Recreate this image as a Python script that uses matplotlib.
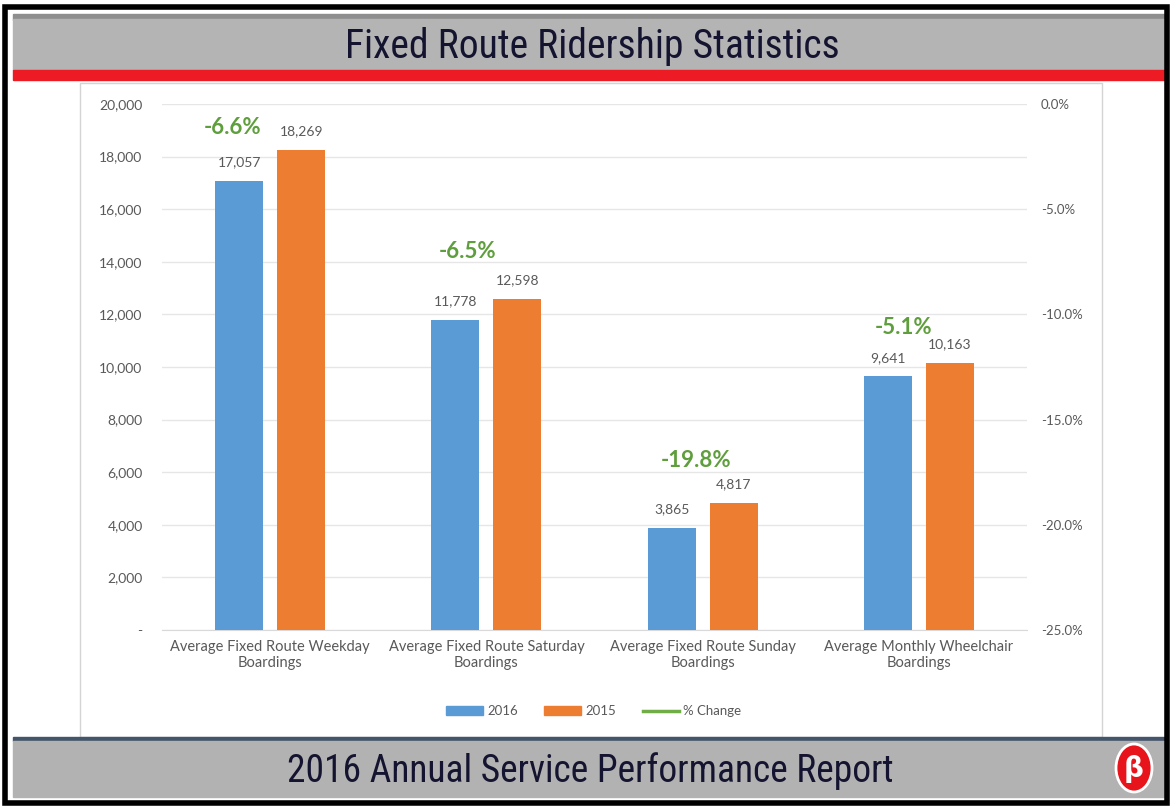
import matplotlib.pyplot as plt
import numpy as np
from matplotlib.patches import Rectangle, Ellipse
from matplotlib.lines import Line2D
from matplotlib.ticker import FuncFormatter

# datos del grafico
categories = ["Average Fixed Route Weekday\nBoardings",
              "Average Fixed Route Saturday\nBoardings",
              "Average Fixed Route Sunday\nBoardings",
              "Average Monthly Wheelchair\nBoardings"]
riders_2016 = [17057, 11778, 3865, 9641]
riders_2015 = [18269, 12598, 4817, 10163]
pct_change = [-6.6, -6.5, -19.8, -5.1]

title = "Fixed Route Ridership Statistics"
footer = "2016 Annual Service Performance Report"

BLUE = "#5b9bd5"
ORANGE = "#ed7d31"
GREEN = "#70ad47"
GREEN_TXT = "#5f9e3c"
GRAY_TXT = "#595959"

plt.rcParams['font.family'] = ['Lato', 'DejaVu Sans']

W, H = 1172, 807
fig = plt.figure(figsize=(W / 100, H / 100), dpi=100)


# pixeles -> coordenadas de figura
def fx(x):
    return x / W


def fy(y):
    return 1 - y / H


def box(x0, y0, x1, y1, **kw):
    kw.setdefault('zorder', -5)
    fig.patches.append(Rectangle((fx(x0), fy(y1)), (x1 - x0) / W, (y1 - y0) / H,
                                 transform=fig.transFigure, **kw))


# marco, cabecera y pie
box(13, 14, 1166, 20, color="#8e8e8e")
box(13, 19, 1166, 70, color="#b4b4b4")
box(13, 70, 1166, 80, color="#ed1c24")
box(80, 83, 1102, 737, facecolor="white", edgecolor="#d4d4d4", lw=1)
box(13, 737, 1166, 741, color="#44546a")
box(13, 741, 1166, 797, color="#b2b2b2")
box(5, 7, 1167, 803, fill=False, edgecolor="black", lw=4, zorder=-4)

narrow = ['Roboto Condensed', 'Roboto', 'DejaVu Sans']
fig.text(fx(592), fy(46), title, ha='center', va='center', fontsize=28.5,
         family=narrow, color="#141430")
fig.text(fx(590), fy(771), footer, ha='center', va='center', fontsize=27,
         family=narrow, color="#141430")

# logo
fig.patches.append(Ellipse((fx(1134), fy(768)), 36 / W, 48 / H, transform=fig.transFigure,
                           facecolor="#e8141c", edgecolor="white", lw=2, zorder=-3))
fig.text(fx(1134), fy(769), "β", ha='center', va='center', fontsize=20,
         fontweight='bold', color='white', family=['DejaVu Sans'])

# ejes
ax = fig.add_axes([fx(162), fy(630), (1027 - 162) / W, (630 - 104) / H])
ax.set_facecolor('none')
ax2 = ax.twinx()

x = np.arange(len(categories))
w = 48 / 216
off = 31 / 216
ax.bar(x - off, riders_2016, w, color=BLUE, label='2016', zorder=3)
ax.bar(x + off, riders_2015, w, color=ORANGE, label='2015', zorder=3)
ax2.plot(x, pct_change, visible=False)

ax.set_xlim(-0.5, 3.5)
ax.set_ylim(0, 20000)
ax.set_yticks(np.arange(0, 20001, 2000))
ax.yaxis.set_major_formatter(FuncFormatter(lambda v, p: "-" if v == 0 else f"{v:,.0f}"))
ax.set_xticks(x)
ax.set_xticklabels(categories, fontsize=10.5, color=GRAY_TXT, linespacing=1.25)
ax.grid(axis='y', color="#e6e6e6", lw=1)
ax.set_axisbelow(True)
ax.tick_params(axis='y', length=0, pad=14, labelsize=10, labelcolor=GRAY_TXT)
ax.tick_params(axis='x', length=0, pad=7)
for s in ['top', 'left', 'right']:
    ax.spines[s].set_visible(False)
ax.spines['bottom'].set_color("#d9d9d9")

ax2.set_ylim(-25, 0)
ax2.set_yticks(np.arange(-25, 0.1, 5))
ax2.yaxis.set_major_formatter(FuncFormatter(lambda v, p: f"{v:.1f}%"))
ax2.tick_params(axis='y', length=0, pad=10, labelsize=9.5, labelcolor=GRAY_TXT)
for s in ax2.spines.values():
    s.set_visible(False)

# etiquetas de valores
for i in range(len(categories)):
    ax.annotate(f"{riders_2016[i]:,}", (x[i] - off, riders_2016[i]), xytext=(0, 13.5),
                textcoords='offset points', ha='center', va='center', fontsize=10, color=GRAY_TXT)
    ax.annotate(f"{riders_2015[i]:,}", (x[i] + off, riders_2015[i]), xytext=(0, 13.5),
                textcoords='offset points', ha='center', va='center', fontsize=10, color=GRAY_TXT)

# etiquetas de % de cambio (colocadas a mano como en el original)
pct_dx = [-38, -19, -7, -15]
pct_dy = [22, 47, 43, 35]
for i, p in enumerate(pct_change):
    top = max(riders_2016[i], riders_2015[i])
    ax.annotate(f"{p:.1f}%", (x[i] + off, top), xytext=((pct_dx[i] - 31) * 0.72, pct_dy[i] * 0.72),
                textcoords='offset points', ha='center', va='center', fontsize=16,
                fontweight='bold', color=GREEN_TXT)

handles = [Rectangle((0, 0), 1, 1, color=BLUE), Rectangle((0, 0), 1, 1, color=ORANGE),
           Line2D([], [], color=GREEN, lw=2.5)]
fig.legend(handles, ['2016', '2015', '% Change'], loc='center', bbox_to_anchor=(fx(594), fy(711)),
           ncol=3, frameon=False, fontsize=9.5, handlelength=2.8, handleheight=0.6,
           handletextpad=0.3, columnspacing=2.0, labelcolor=GRAY_TXT)

fig.savefig("out.png", dpi=100)
